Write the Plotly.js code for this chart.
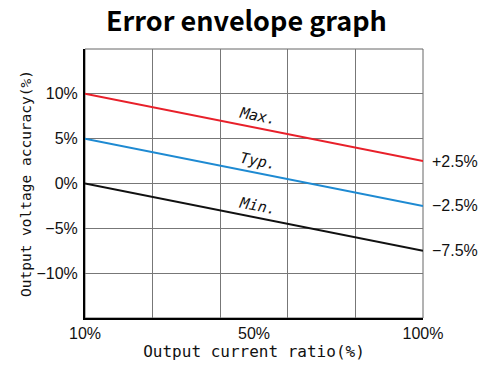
<!DOCTYPE html>
<html>
<head>
<meta charset="utf-8">
<script src="https://cdn.plot.ly/plotly-3.0.1.min.js"></script>
<style>html,body{margin:0;padding:0;background:#fff;}#chart{width:488px;height:365px;}</style>
</head>
<body>
<div id="chart"></div>
<script>
// Data
const loadRatio = [10, 100];            // Output current ratio (%)
const maxErr = [10, 2.5];               // Max. (%)
const typErr = [5, -2.5];               // Typ. (%)
const minErr = [0, -7.5];               // Min. (%)
const seriesNames = ["Max.", "Typ.", "Min."];
const xTickVals = [10, 55, 100];
const xTickText = ["10%", "50%", "100%"];
const yTickVals = [-10, -5, 0, 5, 10];
const yTickText = ["\u221210%", "\u22125%", "0%", "5%", "10%"];

const colors = ["#e8202a", "#1e8ad2", "#111111"];
const series = [maxErr, typErr, minErr];

const traces = series.map((s, i) => ({
  x: loadRatio, y: s, type: "scatter", mode: "lines",
  name: seriesNames[i], line: {color: colors[i], width: 2},
  hoverinfo: "skip"
}));

const xMin = loadRatio[0], xMax = loadRatio[loadRatio.length - 1];
const nCols = 5;
const gridX = [];
for (let k = 0; k <= nCols; k++) gridX.push(xMin + (xMax - xMin) * k / nCols);

const labelX = 56;
const annotations = [];
series.forEach((s, i) => {
  const yOnLine = s[0] + (s[1] - s[0]) * (labelX - xMin) / (xMax - xMin);
  annotations.push({
    x: labelX, y: yOnLine + 1.35, xref: "x", yref: "y",
    text: "<i>" + seriesNames[i] + "</i>", showarrow: false,
    textangle: 11, font: {family: "DejaVu Sans Mono", size: 15, color: "#111"}
  });
  const v = s[s.length - 1];
  annotations.push({
    x: xMax, y: v, xref: "x", yref: "y", xanchor: "left", xshift: 7,
    text: (v > 0 ? "+" : "\u2212") + Math.abs(v).toFixed(1) + "%",
    showarrow: false, font: {family: "Liberation Sans", size: 16, color: "#111"}
  });
});

const layout = {
  width: 488, height: 365,
  margin: {l: 85, r: 65, t: 49, b: 47},
  paper_bgcolor: "#fff", plot_bgcolor: "#fff",
  showlegend: false,
  title: {
    text: "<b>Error envelope graph</b>",
    x: 0.505, xanchor: "center", y: 0.94, yanchor: "middle",
    font: {family: "Noto Sans CJK SC", size: 27, color: "#000"}
  },
  xaxis: {
    range: [xMin, xMax], tickmode: "array", tickvals: xTickVals, ticktext: xTickText,
    showgrid: false, zeroline: false, ticks: "",
    minor: {tickmode: "array", tickvals: gridX, showgrid: true, gridcolor: "#777", gridwidth: 1, ticks: ""},
    showline: true, linecolor: "#000", linewidth: 2,
    tickfont: {family: "Liberation Sans", size: 16, color: "#111"},
    title: {text: "Output current ratio(%)", standoff: 4,
      font: {family: "DejaVu Sans Mono", size: 16, color: "#111"}},
    automargin: false, fixedrange: true
  },
  yaxis: {
    range: [-15, 15], tickmode: "array", tickvals: yTickVals, ticktext: yTickText,
    showgrid: true, gridcolor: "#777", gridwidth: 1,
    zeroline: false, ticks: "", ticklabelstandoff: 2,
    showline: true, linecolor: "#000", linewidth: 2,
    tickfont: {family: "Liberation Sans", size: 16, color: "#111"},
    title: {text: "Output voltage accuracy(%)", standoff: 1,
      font: {family: "DejaVu Sans Mono", size: 14.5, color: "#111"}},
    automargin: false, fixedrange: true
  },
  shapes: [{
    type: "rect", xref: "paper", yref: "paper", x0: 0, x1: 1, y0: 0, y1: 1,
    line: {color: "#666", width: 1}, layer: "below"
  }],
  annotations: annotations
};

Plotly.newPlot("chart", traces, layout, {displayModeBar: false, staticPlot: true});
</script>
</body>
</html>
